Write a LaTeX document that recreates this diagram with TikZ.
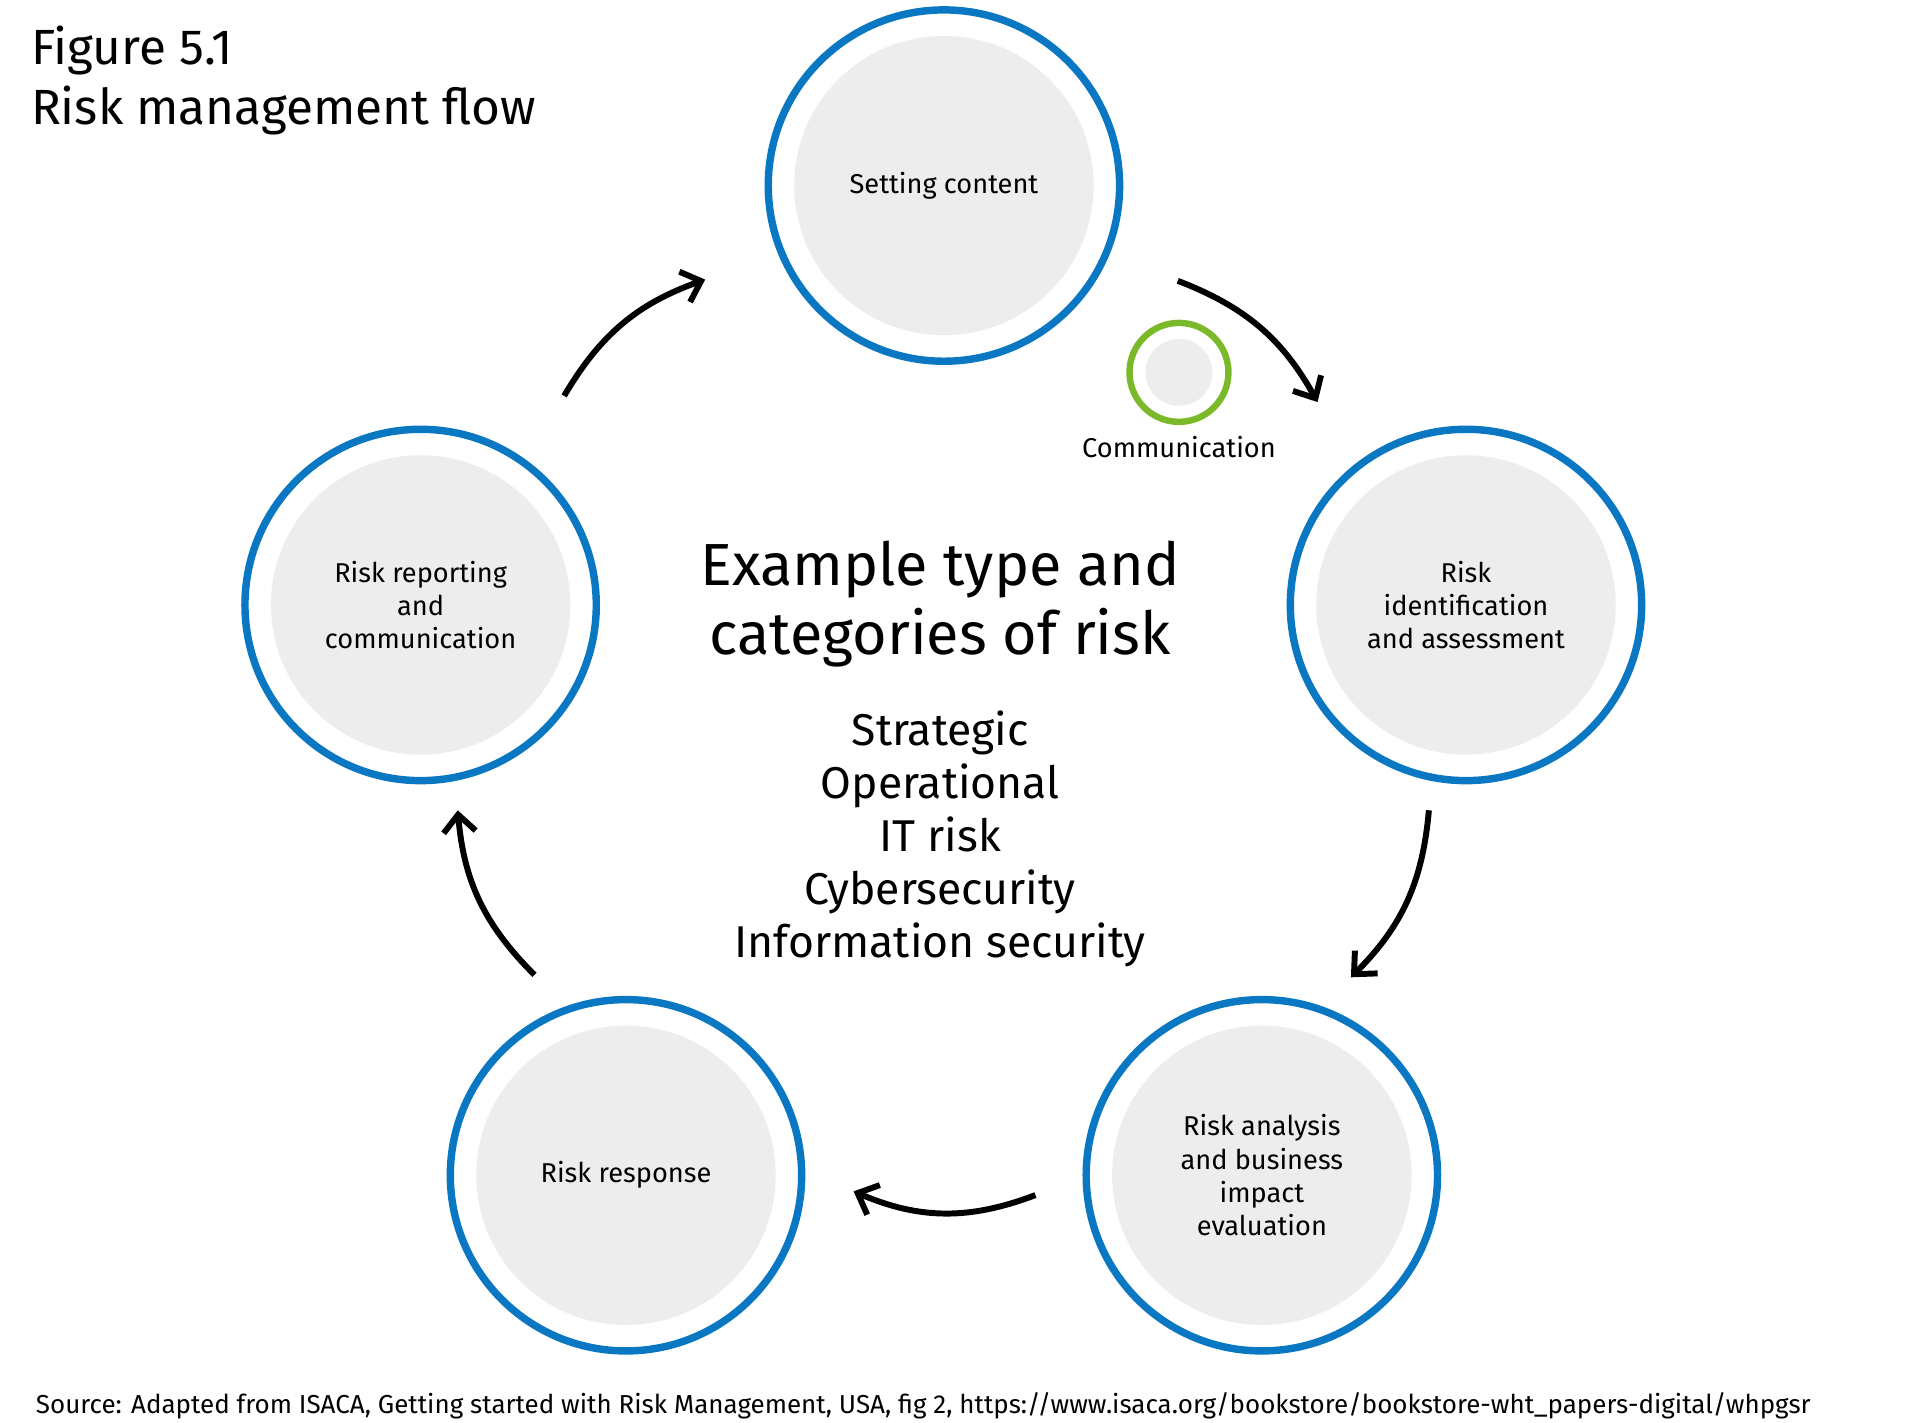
\documentclass[tikz,border=0pt]{standalone}
\usepackage{fontspec}
\setmainfont{Fira Sans}
\usetikzlibrary{arrows.meta}
\definecolor{ringblue}{HTML}{0A77C2}
\definecolor{fillgray}{HTML}{EDEDED}
\definecolor{ringgreen}{HTML}{7AB929}
\tikzstyle{ring} = [draw=ringblue, line width=3pt, circle, minimum size=142pt, inner sep=0pt]
\tikzstyle{core} = [fill=fillgray, circle, minimum size=121pt, inner sep=0pt, align=center, font=\fontsize{11}{13.5}\selectfont]
\tikzstyle{line} = [draw, line width=2.4pt, -{Straight Barb[length=7pt,width=13pt,line width=2.4pt]}]

\begin{document}
\begin{tikzpicture}[x=0.5pt,y=-0.5pt]
    \useasboundingbox[fill=white] (0,0) rectangle (1552,1150);

    \node[anchor=north west,align=left,font=\fontsize{20}{25}\selectfont\addfontfeatures{LetterSpace=0}] (title) at (18,14) {Figure 5.1\\[-1pt]\fontseries{l}Risk management flow};

    % ring of steps
    \node[ring] (SCring) at (763,150) {};
    \node[core] (SC) at (763,150) {Setting content};
    \node[ring] (RIring) at (1185,489) {};
    \node[core] (RI) at (1185,489) {Risk\\identification\\and assessment};
    \node[ring] (RAring) at (1020,950) {};
    \node[core] (RA) at (1020,950) {Risk analysis\\and business\\impact\\evaluation};
    \node[ring] (RSring) at (506,950) {};
    \node[core] (RS) at (506,950) {Risk response};
    \node[ring] (RRring) at (340,489) {};
    \node[core] (RR) at (340,489) {Risk reporting\\and\\communication};

    % communication marker
    \node[draw=ringgreen, line width=2.6pt, circle, minimum size=40pt, inner sep=0pt] (COMring) at (953,301) {};
    \node[fill=fillgray, circle, minimum size=27pt, inner sep=0pt] (COM) at (953,301) {};
    \node[font=\fontsize{11}{13}\selectfont] (COMlabel) at (953,361) {Communication};

    % centre text
    \node[align=center,font=\fontsize{24}{28}\selectfont] (head) at (760,488) {Example type and\\categories of risk};
    \node[align=center,font=\fontsize{18}{21.5}\selectfont] (types) at (760,678) {Strategic\\Operational\\IT risk\\Cybersecurity\\Information security};

    % arrows
    \coordinate (a1s) at (456,320); \coordinate (a1e) at (570,226);
    \coordinate (a2s) at (952,227); \coordinate (a2e) at (1065,325);
    \coordinate (a3s) at (1155,655); \coordinate (a3e) at (1092,790);
    \coordinate (a4s) at (837,966); \coordinate (a4e) at (690,963);
    \coordinate (a5s) at (432,788); \coordinate (a5e) at (370,655);
    \path[line] (a1s) to[bend left=20] (a1e);
    \path[line] (a2s) to[bend left=20] (a2e);
    \path[line] (a3s) to[bend left=20] (a3e);
    \path[line] (a4s) to[bend left=22] (a4e);
    \path[line] (a5s) to[bend left=20] (a5e);

    \node[anchor=west,font=\fontsize{10.5}{12}\selectfont] (source) at (22,1136) {Source: Adapted from ISACA, Getting started with Risk Management, USA, fig 2, https://www.isaca.org/bookstore/bookstore-wht\_papers-digital/whpgsr};
\end{tikzpicture}
\end{document}
